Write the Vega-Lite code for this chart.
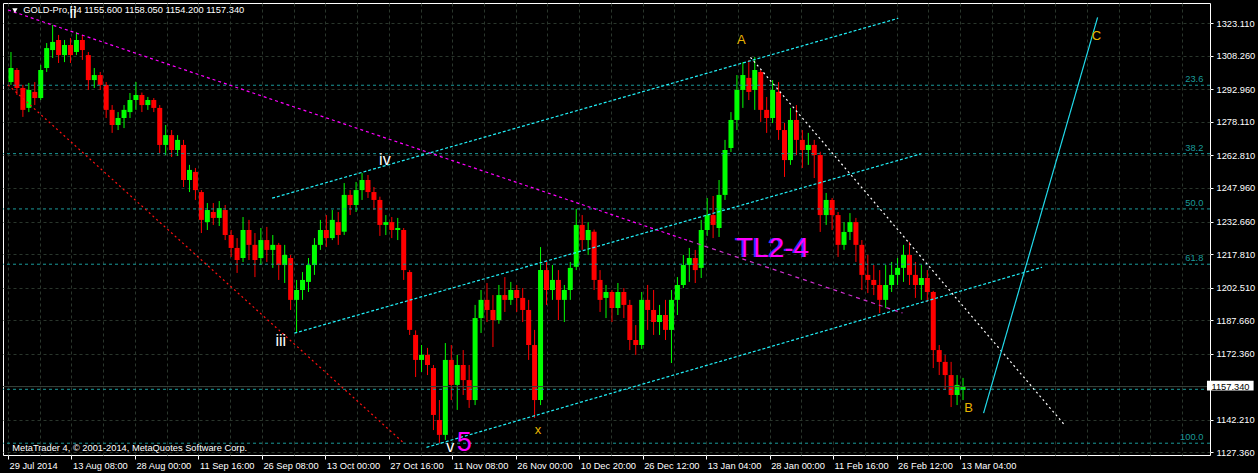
{
"$schema":"https://vega.github.io/schema/vega-lite/v6.json",
"width":1207,"height":452,
"autosize":{"type":"none"},
"padding":{"left":3,"top":3,"right":48,"bottom":18},
"background":"#000000",
"config":{
 "view":{"stroke":"#ffffff","strokeWidth":1},
 "axis":{"labelFont":"Liberation Sans","labelFontSize":9.3,"labelColor":"#ffffff","tickColor":"#ffffff","domain":false,"gridColor":"#2a362c","gridDash":[3,3],"gridWidth":1,"labelOverlap":false,"labelBound":false,"labelFlush":false},
 "text":{"font":"Liberation Sans"}
},
"datasets":{
 "candles":[
{"t":3,"o":1296.3,"h":1310.0,"l":1295.0,"c":1302.7},
{"t":9,"o":1301.8,"h":1302.7,"l":1290.4,"c":1293.6},
{"t":15,"o":1293.6,"h":1295.0,"l":1280.4,"c":1283.6},
{"t":21,"o":1284.5,"h":1295.9,"l":1282.6,"c":1292.7},
{"t":27,"o":1291.8,"h":1296.3,"l":1285.8,"c":1289.0},
{"t":33,"o":1289.0,"h":1304.1,"l":1288.1,"c":1301.8},
{"t":39,"o":1302.7,"h":1314.1,"l":1300.9,"c":1311.8},
{"t":45,"o":1310.9,"h":1322.3,"l":1307.3,"c":1314.6},
{"t":51,"o":1315.5,"h":1317.8,"l":1305.0,"c":1308.6},
{"t":57,"o":1308.6,"h":1315.5,"l":1305.4,"c":1313.2},
{"t":63,"o":1313.2,"h":1316.4,"l":1305.0,"c":1308.6},
{"t":69,"o":1310.0,"h":1319.1,"l":1308.6,"c":1315.5},
{"t":75,"o":1315.5,"h":1317.8,"l":1306.4,"c":1310.9},
{"t":81,"o":1308.6,"h":1310.0,"l":1292.7,"c":1297.2},
{"t":87,"o":1297.2,"h":1302.7,"l":1293.6,"c":1299.5},
{"t":93,"o":1299.5,"h":1300.9,"l":1292.7,"c":1295.0},
{"t":99,"o":1295.0,"h":1296.3,"l":1279.9,"c":1283.6},
{"t":105,"o":1283.6,"h":1285.8,"l":1273.1,"c":1276.7},
{"t":111,"o":1276.7,"h":1282.6,"l":1274.4,"c":1279.9},
{"t":117,"o":1279.9,"h":1285.8,"l":1275.3,"c":1283.6},
{"t":123,"o":1282.6,"h":1291.3,"l":1279.9,"c":1288.1},
{"t":129,"o":1288.1,"h":1296.3,"l":1283.6,"c":1290.4},
{"t":135,"o":1290.4,"h":1291.5,"l":1282.6,"c":1285.8},
{"t":141,"o":1285.8,"h":1289.5,"l":1283.6,"c":1288.1},
{"t":147,"o":1288.1,"h":1289.0,"l":1282.6,"c":1284.5},
{"t":153,"o":1284.5,"h":1285.8,"l":1263.9,"c":1267.6},
{"t":159,"o":1267.6,"h":1276.7,"l":1263.0,"c":1272.1},
{"t":165,"o":1272.1,"h":1274.4,"l":1262.1,"c":1265.3},
{"t":171,"o":1265.3,"h":1272.1,"l":1262.6,"c":1269.9},
{"t":177,"o":1267.6,"h":1269.9,"l":1248.4,"c":1251.6},
{"t":183,"o":1251.6,"h":1258.5,"l":1246.1,"c":1256.2},
{"t":189,"o":1255.3,"h":1257.1,"l":1242.5,"c":1247.0},
{"t":195,"o":1246.1,"h":1247.0,"l":1227.4,"c":1233.4},
{"t":201,"o":1232.4,"h":1241.1,"l":1228.8,"c":1237.9},
{"t":207,"o":1237.0,"h":1241.1,"l":1231.1,"c":1234.3},
{"t":213,"o":1234.3,"h":1242.0,"l":1230.6,"c":1238.8},
{"t":219,"o":1237.9,"h":1240.2,"l":1224.2,"c":1226.5},
{"t":225,"o":1226.5,"h":1228.8,"l":1216.5,"c":1220.6},
{"t":231,"o":1220.6,"h":1225.1,"l":1209.2,"c":1215.1},
{"t":237,"o":1216.0,"h":1234.7,"l":1214.2,"c":1228.8},
{"t":243,"o":1228.8,"h":1233.4,"l":1215.1,"c":1222.0},
{"t":249,"o":1222.0,"h":1227.4,"l":1207.3,"c":1215.1},
{"t":255,"o":1216.0,"h":1229.7,"l":1212.8,"c":1224.2},
{"t":261,"o":1224.2,"h":1230.2,"l":1214.2,"c":1219.7},
{"t":267,"o":1219.7,"h":1226.5,"l":1211.5,"c":1222.0},
{"t":273,"o":1222.0,"h":1222.9,"l":1206.0,"c":1212.8},
{"t":279,"o":1212.8,"h":1222.0,"l":1204.6,"c":1217.4},
{"t":285,"o":1216.0,"h":1217.4,"l":1192.3,"c":1196.9},
{"t":291,"o":1196.9,"h":1206.0,"l":1181.8,"c":1201.4},
{"t":297,"o":1201.4,"h":1209.6,"l":1196.9,"c":1206.0},
{"t":303,"o":1205.1,"h":1216.0,"l":1200.5,"c":1212.8},
{"t":309,"o":1212.8,"h":1225.1,"l":1208.3,"c":1222.0},
{"t":315,"o":1222.0,"h":1233.4,"l":1219.7,"c":1228.8},
{"t":321,"o":1228.8,"h":1235.6,"l":1221.0,"c":1225.1},
{"t":327,"o":1225.1,"h":1237.9,"l":1224.2,"c":1233.4},
{"t":333,"o":1232.4,"h":1237.0,"l":1222.0,"c":1226.5},
{"t":339,"o":1228.0,"h":1250.2,"l":1226.5,"c":1244.8},
{"t":345,"o":1244.8,"h":1247.0,"l":1235.6,"c":1240.2},
{"t":351,"o":1240.2,"h":1250.7,"l":1237.0,"c":1247.0},
{"t":357,"o":1247.0,"h":1254.8,"l":1242.5,"c":1251.6},
{"t":363,"o":1251.6,"h":1253.9,"l":1243.4,"c":1246.1},
{"t":369,"o":1246.1,"h":1248.4,"l":1237.9,"c":1242.5},
{"t":375,"o":1242.5,"h":1244.0,"l":1226.1,"c":1231.1},
{"t":381,"o":1231.1,"h":1235.6,"l":1226.5,"c":1232.4},
{"t":387,"o":1232.4,"h":1234.7,"l":1225.1,"c":1228.8},
{"t":393,"o":1228.8,"h":1234.3,"l":1224.2,"c":1229.7},
{"t":399,"o":1228.8,"h":1229.7,"l":1206.0,"c":1210.5},
{"t":405,"o":1209.6,"h":1210.5,"l":1180.9,"c":1183.2},
{"t":411,"o":1180.9,"h":1183.0,"l":1161.7,"c":1169.5},
{"t":417,"o":1169.5,"h":1176.3,"l":1164.0,"c":1171.8},
{"t":423,"o":1171.8,"h":1175.0,"l":1162.6,"c":1167.2},
{"t":429,"o":1165.8,"h":1167.2,"l":1137.5,"c":1144.4},
{"t":435,"o":1142.1,"h":1151.2,"l":1131.6,"c":1135.3},
{"t":441,"o":1135.3,"h":1177.2,"l":1133.0,"c":1169.5},
{"t":447,"o":1169.5,"h":1176.3,"l":1151.2,"c":1158.1},
{"t":453,"o":1158.1,"h":1171.8,"l":1146.7,"c":1167.2},
{"t":459,"o":1167.2,"h":1174.0,"l":1153.5,"c":1160.3},
{"t":465,"o":1160.3,"h":1167.2,"l":1147.6,"c":1151.2},
{"t":471,"o":1151.2,"h":1194.6,"l":1148.9,"c":1188.6},
{"t":477,"o":1188.6,"h":1201.4,"l":1181.8,"c":1196.9},
{"t":483,"o":1196.9,"h":1204.6,"l":1186.8,"c":1192.3},
{"t":489,"o":1192.3,"h":1199.1,"l":1175.4,"c":1187.7},
{"t":495,"o":1187.7,"h":1203.7,"l":1186.0,"c":1199.1},
{"t":501,"o":1199.1,"h":1207.3,"l":1191.4,"c":1196.9},
{"t":507,"o":1196.9,"h":1205.1,"l":1194.6,"c":1201.4},
{"t":513,"o":1201.4,"h":1203.7,"l":1191.4,"c":1197.8},
{"t":519,"o":1197.8,"h":1202.3,"l":1186.8,"c":1192.3},
{"t":525,"o":1192.3,"h":1196.9,"l":1169.5,"c":1176.3},
{"t":531,"o":1176.3,"h":1183.2,"l":1143.0,"c":1151.2},
{"t":537,"o":1151.2,"h":1221.0,"l":1148.9,"c":1210.5},
{"t":543,"o":1210.5,"h":1214.2,"l":1194.6,"c":1201.4},
{"t":549,"o":1201.4,"h":1212.8,"l":1196.9,"c":1206.0},
{"t":555,"o":1206.0,"h":1210.5,"l":1187.7,"c":1196.9},
{"t":561,"o":1196.9,"h":1203.7,"l":1186.8,"c":1201.4},
{"t":567,"o":1201.4,"h":1214.2,"l":1196.9,"c":1211.5},
{"t":573,"o":1212.0,"h":1238.4,"l":1210.5,"c":1231.1},
{"t":579,"o":1231.1,"h":1235.6,"l":1219.7,"c":1224.2},
{"t":585,"o":1224.2,"h":1232.4,"l":1217.4,"c":1228.8},
{"t":591,"o":1228.0,"h":1229.0,"l":1201.4,"c":1206.0},
{"t":597,"o":1206.0,"h":1210.5,"l":1191.4,"c":1196.9},
{"t":603,"o":1197.8,"h":1203.7,"l":1188.6,"c":1200.5},
{"t":609,"o":1200.5,"h":1201.4,"l":1186.8,"c":1193.2},
{"t":615,"o":1193.2,"h":1204.6,"l":1190.0,"c":1200.5},
{"t":621,"o":1200.5,"h":1202.3,"l":1188.6,"c":1194.6},
{"t":627,"o":1194.6,"h":1196.9,"l":1174.0,"c":1178.6},
{"t":633,"o":1178.6,"h":1185.4,"l":1171.8,"c":1176.3},
{"t":639,"o":1176.3,"h":1200.5,"l":1174.5,"c":1196.9},
{"t":645,"o":1196.9,"h":1203.7,"l":1183.2,"c":1192.3},
{"t":651,"o":1192.3,"h":1201.4,"l":1180.9,"c":1186.8},
{"t":657,"o":1186.8,"h":1194.6,"l":1180.9,"c":1190.0},
{"t":663,"o":1190.0,"h":1196.9,"l":1178.6,"c":1183.2},
{"t":669,"o":1183.2,"h":1201.4,"l":1168.1,"c":1196.9},
{"t":675,"o":1196.9,"h":1207.3,"l":1190.0,"c":1203.7},
{"t":681,"o":1203.7,"h":1217.4,"l":1202.3,"c":1212.8},
{"t":687,"o":1212.8,"h":1220.6,"l":1205.1,"c":1216.0},
{"t":693,"o":1216.0,"h":1219.7,"l":1204.6,"c":1210.5},
{"t":699,"o":1211.5,"h":1233.4,"l":1206.9,"c":1228.8},
{"t":705,"o":1228.8,"h":1243.4,"l":1226.1,"c":1235.6},
{"t":711,"o":1235.6,"h":1244.3,"l":1225.1,"c":1231.1},
{"t":717,"o":1229.7,"h":1251.6,"l":1225.6,"c":1244.8},
{"t":723,"o":1244.8,"h":1269.9,"l":1242.5,"c":1265.3},
{"t":729,"o":1266.2,"h":1282.6,"l":1264.4,"c":1279.0},
{"t":735,"o":1279.0,"h":1299.5,"l":1274.4,"c":1292.7},
{"t":741,"o":1292.7,"h":1305.4,"l":1284.5,"c":1299.5},
{"t":747,"o":1298.2,"h":1306.4,"l":1288.1,"c":1291.8},
{"t":753,"o":1292.7,"h":1307.7,"l":1283.6,"c":1301.8},
{"t":759,"o":1300.9,"h":1301.8,"l":1278.1,"c":1283.6},
{"t":765,"o":1283.6,"h":1289.5,"l":1273.1,"c":1279.9},
{"t":771,"o":1279.9,"h":1297.2,"l":1277.6,"c":1292.7},
{"t":777,"o":1291.8,"h":1296.3,"l":1269.9,"c":1274.4},
{"t":783,"o":1274.4,"h":1277.6,"l":1253.0,"c":1260.7},
{"t":789,"o":1260.7,"h":1284.5,"l":1258.5,"c":1279.0},
{"t":795,"o":1279.0,"h":1285.8,"l":1263.0,"c":1269.9},
{"t":801,"o":1269.9,"h":1274.4,"l":1257.1,"c":1265.3},
{"t":807,"o":1265.3,"h":1273.1,"l":1258.5,"c":1267.6},
{"t":813,"o":1267.6,"h":1269.9,"l":1252.5,"c":1263.0},
{"t":819,"o":1263.0,"h":1264.5,"l":1227.9,"c":1235.6},
{"t":825,"o":1235.6,"h":1245.7,"l":1231.1,"c":1242.5},
{"t":831,"o":1242.5,"h":1243.4,"l":1228.8,"c":1235.6},
{"t":837,"o":1235.6,"h":1237.0,"l":1216.5,"c":1222.0},
{"t":843,"o":1222.0,"h":1232.4,"l":1219.7,"c":1227.9},
{"t":849,"o":1227.9,"h":1236.5,"l":1224.2,"c":1232.4},
{"t":855,"o":1232.4,"h":1234.3,"l":1214.2,"c":1222.0},
{"t":861,"o":1222.0,"h":1224.2,"l":1201.4,"c":1208.3},
{"t":867,"o":1208.3,"h":1217.4,"l":1200.0,"c":1206.0},
{"t":873,"o":1206.0,"h":1212.8,"l":1199.1,"c":1203.7},
{"t":879,"o":1203.7,"h":1210.5,"l":1190.9,"c":1196.9},
{"t":885,"o":1196.9,"h":1212.8,"l":1193.2,"c":1203.7},
{"t":891,"o":1203.7,"h":1214.2,"l":1200.5,"c":1208.3},
{"t":897,"o":1208.3,"h":1216.0,"l":1203.7,"c":1211.5},
{"t":903,"o":1211.5,"h":1222.0,"l":1205.1,"c":1217.4},
{"t":909,"o":1217.4,"h":1223.3,"l":1203.7,"c":1208.3},
{"t":915,"o":1208.3,"h":1214.2,"l":1197.8,"c":1203.7},
{"t":921,"o":1203.7,"h":1212.8,"l":1196.9,"c":1206.9},
{"t":927,"o":1206.9,"h":1210.5,"l":1196.0,"c":1200.5},
{"t":933,"o":1200.5,"h":1201.0,"l":1165.8,"c":1174.0},
{"t":939,"o":1174.0,"h":1176.3,"l":1162.6,"c":1168.6},
{"t":945,"o":1168.6,"h":1171.8,"l":1155.8,"c":1162.6},
{"t":951,"o":1162.6,"h":1168.6,"l":1148.0,"c":1153.5},
{"t":957,"o":1153.5,"h":1162.6,"l":1148.9,"c":1158.1},
{"t":963,"o":1155.8,"h":1161.3,"l":1151.2,"c":1157.3}
 ],
 "lines":[
{"n":"tl1","x1":0,"y1":1329.2,"x2":687,"y2":1223.8},
{"n":"tl2","x1":687,"y1":1223.8,"x2":902,"y2":1190.9},
{"n":"red","x1":0,"y1":1295.0,"x2":399,"y2":1131.6},
{"n":"ch1","x1":266.3,"y1":1243.3,"x2":897.7,"y2":1325.4},
{"n":"ch2","x1":288.7,"y1":1181.7,"x2":920.3,"y2":1263.5},
{"n":"ch3","x1":422,"y1":1129.6,"x2":1042.7,"y2":1211.8},
{"n":"wht","x1":748.7,"y1":1307.6,"x2":1066,"y2":1139.5},
{"n":"proj","x1":983.7,"y1":1145.2,"x2":1098.7,"y2":1325.8}
 ],
 "fib":[
{"lv":"23.6","p":1294.84},
{"lv":"38.2","p":1263.63},
{"lv":"50.0","p":1238.4},
{"lv":"61.8","p":1213.17},
{"lv":"100.0","p":1131.5}
 ],
 "labels":[
{"s":"ii","bar":65.5,"p":1327.8,"g":"wave"},
{"s":"iii","bar":275,"p":1178.1,"g":"wave"},
{"s":"iv","bar":380,"p":1260.7,"g":"wave"},
{"s":"v","bar":446,"p":1129.8,"g":"wave"},
{"s":"5","bar":460,"p":1131.6,"g":"big"},
{"s":"x","bar":534.5,"p":1137.5,"g":"abc"},
{"s":"A","bar":739.5,"p":1315.5,"g":"abc"},
{"s":"B","bar":968.5,"p":1147.6,"g":"abc"},
{"s":"C","bar":1097.5,"p":1317.1,"g":"abc"},
{"s":"TL2-4","bar":771,"p":1220.1,"g":"tl"}
 ]
},
"layer":[
 {"data":{"name":"candles"},"mark":{"type":"rule","strokeWidth":1},
  "encoding":{
   "x":{"field":"t","type":"quantitative","scale":{"domain":[0,1207],"nice":false,"zero":false},
    "axis":{"orient":"bottom","title":null,"grid":true,"labelOverlap":false,"tickCount":200,"values":[0,32,64,96,128,160,192,224,256,288,320,352,384,416,448,480,512,544,576,608,640,672,704,736,768,800,832,864,896,928,960,992,1024,1056,1088,1120,1152,1184],
     "tickSize":4,"labelPadding":2,"labelAlign":"left","labelBaseline":"top","labelOffset":1,
     "labelExpr":"(datum.value % 64 == 0 && datum.value <= 960) ? ['29 Jul 2014','13 Aug 08:00','28 Aug 00:00','11 Sep 16:00','26 Sep 08:00','13 Oct 00:00','27 Oct 16:00','11 Nov 08:00','26 Nov 00:00','10 Dec 20:00','26 Dec 12:00','13 Jan 04:00','28 Jan 00:00','11 Feb 16:00','26 Feb 12:00','13 Mar 04:00'][datum.value / 64] : ''",
     "tickOpacity":{"condition":{"test":"datum.value % 64 == 0 && datum.value <= 960","value":1},"value":0}}},
   "y":{"field":"l","type":"quantitative","scale":{"domain":[1126.12,1332.37],"nice":false,"zero":false},
    "axis":{"orient":"right","title":null,"grid":true,"labelOverlap":false,"tickCount":200,"values":[1323.11,1308.26,1292.96,1278.11,1262.81,1247.96,1232.66,1217.81,1202.51,1187.66,1172.36,1142.21,1127.36],"format":".3f","tickSize":3,"labelPadding":3}},
   "y2":{"field":"h"},
   "color":{"condition":{"test":"datum.c >= datum.o","value":"#00ff00"},"value":"#ff0000"}}},
 {"data":{"name":"candles"},"mark":{"type":"bar","width":5},
  "encoding":{
   "x":{"field":"t","type":"quantitative","scale":{"domain":[0,1207],"nice":false,"zero":false}},
   "y":{"field":"o","type":"quantitative","scale":{"domain":[1126.12,1332.37],"nice":false,"zero":false}},
   "y2":{"field":"c"},
   "color":{"condition":{"test":"datum.c >= datum.o","value":"#00ff00"},"value":"#ff0000"}}},
 {"data":{"name":"fib"},"mark":{"type":"rule","color":"#1a9a9a","strokeDash":[3,3],"strokeWidth":1},
  "encoding":{"y":{"field":"p","type":"quantitative","scale":{"domain":[1126.12,1332.37],"nice":false,"zero":false}}}},
 {"data":{"values":[{}]},"mark":{"type":"rule","color":"#1a9a9a","strokeDash":[3,3],"strokeWidth":1},
  "encoding":{"y":{"datum":1156.1,"type":"quantitative","scale":{"domain":[1126.12,1332.37],"nice":false,"zero":false}}}},
 {"data":{"values":[{}]},"mark":{"type":"rule","color":"#3a443c","strokeWidth":1},
  "encoding":{"y":{"datum":1157.34,"type":"quantitative","scale":{"domain":[1126.12,1332.37],"nice":false,"zero":false}}}},
 {"data":{"name":"lines"},"mark":{"type":"rule","strokeWidth":1.2},
  "encoding":{
   "x":{"field":"x1","type":"quantitative","scale":{"domain":[0,1207],"nice":false,"zero":false}},
   "x2":{"field":"x2"},
   "y":{"field":"y1","type":"quantitative","scale":{"domain":[1126.12,1332.37],"nice":false,"zero":false}},
   "y2":{"field":"y2"},
   "color":{"field":"n","type":"nominal","legend":null,"scale":{"domain":["tl1","tl2","red","ch1","ch2","ch3","wht","proj"],"range":["#ff00ff","#d030d0","#ff1010","#20f0f8","#20f0f8","#20f0f8","#ffffff","#20d8e8"]}},
   "strokeDash":{"field":"n","type":"nominal","legend":null,"scale":{"domain":["tl1","tl2","red","ch1","ch2","ch3","wht","proj"],"range":[[3,3],[4,4],[2,3],[3,2],[3,2],[3,2],[2,3],[1,0]]}}}},
 {"data":{"name":"fib"},"mark":{"type":"text","color":"#1a9a9a","fontSize":9.3,"align":"right","baseline":"bottom","dy":-1},
  "encoding":{
   "x":{"datum":1205.3,"type":"quantitative","scale":{"domain":[0,1207],"nice":false,"zero":false}},
   "y":{"field":"p","type":"quantitative","scale":{"domain":[1126.12,1332.37],"nice":false,"zero":false}},
   "text":{"field":"lv"}}},
 {"data":{"name":"labels"},"transform":[{"filter":"datum.g == 'wave'"}],"mark":{"type":"text","color":"#ffffff","fontSize":16,"align":"center","baseline":"middle"},
  "encoding":{
   "x":{"field":"bar","type":"quantitative","scale":{"domain":[0,1207],"nice":false,"zero":false}},
   "y":{"field":"p","type":"quantitative","scale":{"domain":[1126.12,1332.37],"nice":false,"zero":false}},
   "text":{"field":"s"}}},
 {"data":{"name":"labels"},"transform":[{"filter":"datum.g == 'big'"}],"mark":{"type":"text","color":"#ff00ff","fontSize":27,"align":"center","baseline":"middle"},
  "encoding":{
   "x":{"field":"bar","type":"quantitative","scale":{"domain":[0,1207],"nice":false,"zero":false}},
   "y":{"field":"p","type":"quantitative","scale":{"domain":[1126.12,1332.37],"nice":false,"zero":false}},
   "text":{"field":"s"}}},
 {"data":{"name":"labels"},"transform":[{"filter":"datum.g == 'abc'"}],"mark":{"type":"text","color":"#e8b400","fontSize":13,"align":"center","baseline":"middle"},
  "encoding":{
   "x":{"field":"bar","type":"quantitative","scale":{"domain":[0,1207],"nice":false,"zero":false}},
   "y":{"field":"p","type":"quantitative","scale":{"domain":[1126.12,1332.37],"nice":false,"zero":false}},
   "text":{"field":"s"}}},
 {"data":{"name":"labels"},"transform":[{"filter":"datum.g == 'tl'"}],"mark":{"type":"text","color":"#3a3aff","fontSize":28,"align":"center","baseline":"middle","dx":-1.5},
  "encoding":{
   "x":{"field":"bar","type":"quantitative","scale":{"domain":[0,1207],"nice":false,"zero":false}},
   "y":{"field":"p","type":"quantitative","scale":{"domain":[1126.12,1332.37],"nice":false,"zero":false}},
   "text":{"field":"s"}}},
 {"data":{"name":"labels"},"transform":[{"filter":"datum.g == 'tl'"}],"mark":{"type":"text","color":"#ff00ff","fontSize":28,"align":"center","baseline":"middle"},
  "encoding":{
   "x":{"field":"bar","type":"quantitative","scale":{"domain":[0,1207],"nice":false,"zero":false}},
   "y":{"field":"p","type":"quantitative","scale":{"domain":[1126.12,1332.37],"nice":false,"zero":false}},
   "text":{"field":"s"}}},
 {"data":{"values":[{"s":"GOLD-Pro,H4  1155.600 1158.050 1154.200 1157.340"}]},"mark":{"type":"text","color":"#ffffff","fontSize":9.3,"align":"left","baseline":"middle"},
  "encoding":{
   "x":{"datum":15.3,"type":"quantitative","scale":{"domain":[0,1207],"nice":false,"zero":false}},
   "y":{"datum":1329.4,"type":"quantitative","scale":{"domain":[1126.12,1332.37],"nice":false,"zero":false}},
   "text":{"field":"s"}}},
 {"data":{"values":[{}]},"mark":{"type":"point","shape":"triangle-down","filled":true,"color":"#ffffff","size":28,"opacity":1},
  "encoding":{
   "x":{"datum":7,"type":"quantitative","scale":{"domain":[0,1207],"nice":false,"zero":false}},
   "y":{"datum":1328.9,"type":"quantitative","scale":{"domain":[1126.12,1332.37],"nice":false,"zero":false}}}},
 {"data":{"values":[{"s":"MetaTrader 4, © 2001-2014, MetaQuotes Software Corp."}]},"mark":{"type":"text","color":"#ffffff","fontSize":9.3,"align":"left","baseline":"middle"},
  "encoding":{
   "x":{"datum":4.3,"type":"quantitative","scale":{"domain":[0,1207],"nice":false,"zero":false}},
   "y":{"datum":1129.5,"type":"quantitative","scale":{"domain":[1126.12,1332.37],"nice":false,"zero":false}},
   "text":{"field":"s"}}},
 {"data":{"values":[{}]},"mark":{"type":"rect","color":"#ffffff"},
  "encoding":{
   "x":{"datum":1209,"type":"quantitative","scale":{"domain":[0,1207],"nice":false,"zero":false}},
   "x2":{"datum":1256},
   "y":{"datum":1160.0,"type":"quantitative","scale":{"domain":[1126.12,1332.37],"nice":false,"zero":false}},
   "y2":{"datum":1155.5}}},
 {"data":{"values":[{"s":"1157.340"}]},"mark":{"type":"text","color":"#000000","fontSize":9.3,"align":"left","baseline":"middle"},
  "encoding":{
   "x":{"datum":1213.5,"type":"quantitative","scale":{"domain":[0,1207],"nice":false,"zero":false}},
   "y":{"datum":1157.34,"type":"quantitative","scale":{"domain":[1126.12,1332.37],"nice":false,"zero":false}},
   "text":{"field":"s"}}}
]
}
